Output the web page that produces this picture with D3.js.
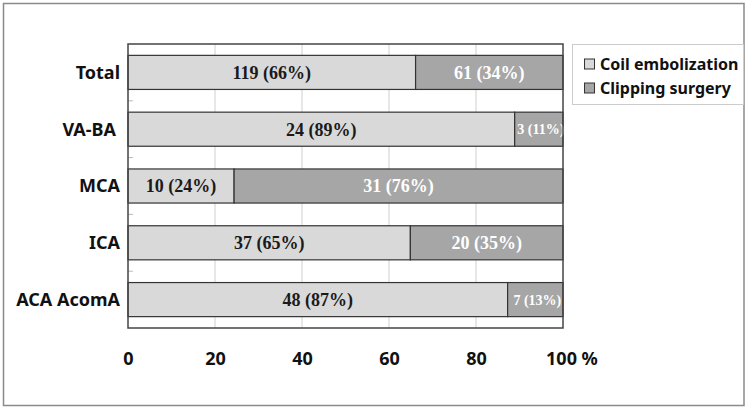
<!DOCTYPE html>
<html><head><meta charset="utf-8">
<script src="https://cdn.jsdelivr.net/npm/d3@7"></script>
<style>body{margin:0;background:#fff}svg{display:block}</style>
</head><body>
<svg id="c" width="748" height="410"></svg>
<script>
const categories = ["Total", "VA-BA", "MCA", "ICA", "ACA AcomA"];
const coilCounts = [119, 24, 10, 37, 48];
const clipCounts = [61, 3, 31, 20, 7];
const coilPct = [66, 89, 24, 65, 87];
const clipPct = [34, 11, 76, 35, 13];
const seriesNames = ["Coil embolization", "Clipping surgery"];
const xTicks = [0, 20, 40, 60, 80, 100];

const svg = d3.select("#c");
const W = 748, H = 410;
const m = {left:128, right:185, top:44, bottom:82};
const pw = W - m.left - m.right, ph = H - m.top - m.bottom;
const colors = ["#d9d9d9", "#a6a6a6"];

// outer border
svg.append("rect").attr("x",3.5).attr("y",3.5).attr("width",740.5).attr("height",402)
  .attr("fill","none").attr("stroke","#8a8a8a").attr("stroke-width",1.5);

const x = d3.scaleLinear().domain([0,100]).range([m.left, m.left+pw]);
const y = d3.scaleBand().domain(categories).range([m.top, m.top+ph]).paddingInner(0.4).paddingOuter(0.2);

// grid
svg.append("g").selectAll("line").data(xTicks.slice(1,-1)).join("line")
  .attr("x1",d=>x(d)).attr("x2",d=>x(d)).attr("y1",m.top).attr("y2",m.top+ph)
  .attr("stroke","#cfcfcf").attr("stroke-width",1);

// small ticks between categories
svg.append("g").selectAll("line").data(categories.slice(1)).join("line")
  .attr("x1",m.left).attr("x2",m.left+5)
  .attr("y1",d=>y(d)-y.step()*y.paddingInner()/2).attr("y2",d=>y(d)-y.step()*y.paddingInner()/2)
  .attr("stroke","#bbb");

const rows = categories.map((c,i)=>{
  const tot = coilCounts[i]+clipCounts[i];
  const p1 = coilCounts[i]/tot*100;
  return {c, segs:[
    {s:0, x0:0, x1:p1, n:coilCounts[i], p:coilPct[i]},
    {s:1, x0:p1, x1:100, n:clipCounts[i], p:clipPct[i]}
  ]};
});

const g = svg.append("g");
rows.forEach(r=>{
  r.segs.forEach(s=>{
    g.append("rect").attr("x",x(s.x0)).attr("y",y(r.c)).attr("width",x(s.x1)-x(s.x0)).attr("height",y.bandwidth())
      .attr("fill",colors[s.s]).attr("stroke","#333").attr("stroke-width",1.2);
    const small = (s.x1-s.x0) < 15;
    g.append("text").attr("x",(x(s.x0)+x(s.x1))/2 + (small?2:0)).attr("y",y(r.c)+y.bandwidth()/2)
      .attr("dy","0.35em").attr("text-anchor","middle")
      .attr("font-family","'Liberation Serif','Times New Roman',serif").attr("font-weight","bold")
      .attr("font-size", small?14:18)
      .attr("fill", s.s===0?"#1a1a1a":"#ffffff")
      .text(`${s.n} (${s.p}%)`);
  });
});

// plot border
svg.append("rect").attr("x",m.left).attr("y",m.top).attr("width",pw).attr("height",ph)
  .attr("fill","none").attr("stroke","#444").attr("stroke-width",1.5);

// category labels
svg.append("g").selectAll("text").data(categories).join("text")
  .attr("x",d=> d==="VA-BA"?116:120).attr("y",d=>y(d)+y.bandwidth()/2).attr("dy","0.36em")
  .attr("text-anchor","end").attr("font-family","'Noto Sans',sans-serif").attr("font-weight","bold")
  .attr("font-size",18).attr("fill","#111").text(d=>d);

// x axis labels
const xa = svg.append("g").attr("transform",`translate(0,${m.top+ph})`)
  .call(d3.axisBottom(x).tickValues(xTicks).tickSize(0).tickPadding(24).tickFormat(d=>d));
xa.select(".domain").remove();
xa.selectAll("text").attr("font-family","'Noto Sans',sans-serif").attr("font-weight","bold")
  .attr("font-size",18).attr("fill","#111");
xa.selectAll(".tick").filter(d=>d===100).select("text").each(function(){
  const t = d3.select(this);
  const w = this.getComputedTextLength();
  t.attr("text-anchor","start").attr("x",-w/2 - 2);
  t.append("tspan").text(" %");
});

// legend
const lg = svg.append("g");
lg.append("rect").attr("x",572.5).attr("y",44.5).attr("width",171).attr("height",60)
  .attr("fill","#fff").attr("stroke","#cccccc");
seriesNames.forEach((n,i)=>{
  const yy = 64 + i*24;
  lg.append("rect").attr("x",584.5).attr("y",yy-5).attr("width",10).attr("height",10)
    .attr("fill",colors[i]).attr("stroke","#333").attr("stroke-width",1);
  lg.append("text").attr("x",600).attr("y",yy).attr("dy","0.36em")
    .attr("font-family","'Noto Sans',sans-serif").attr("font-weight","bold").attr("font-size",16)
    .attr("fill","#111").text(n);
});
</script>
</body></html>
